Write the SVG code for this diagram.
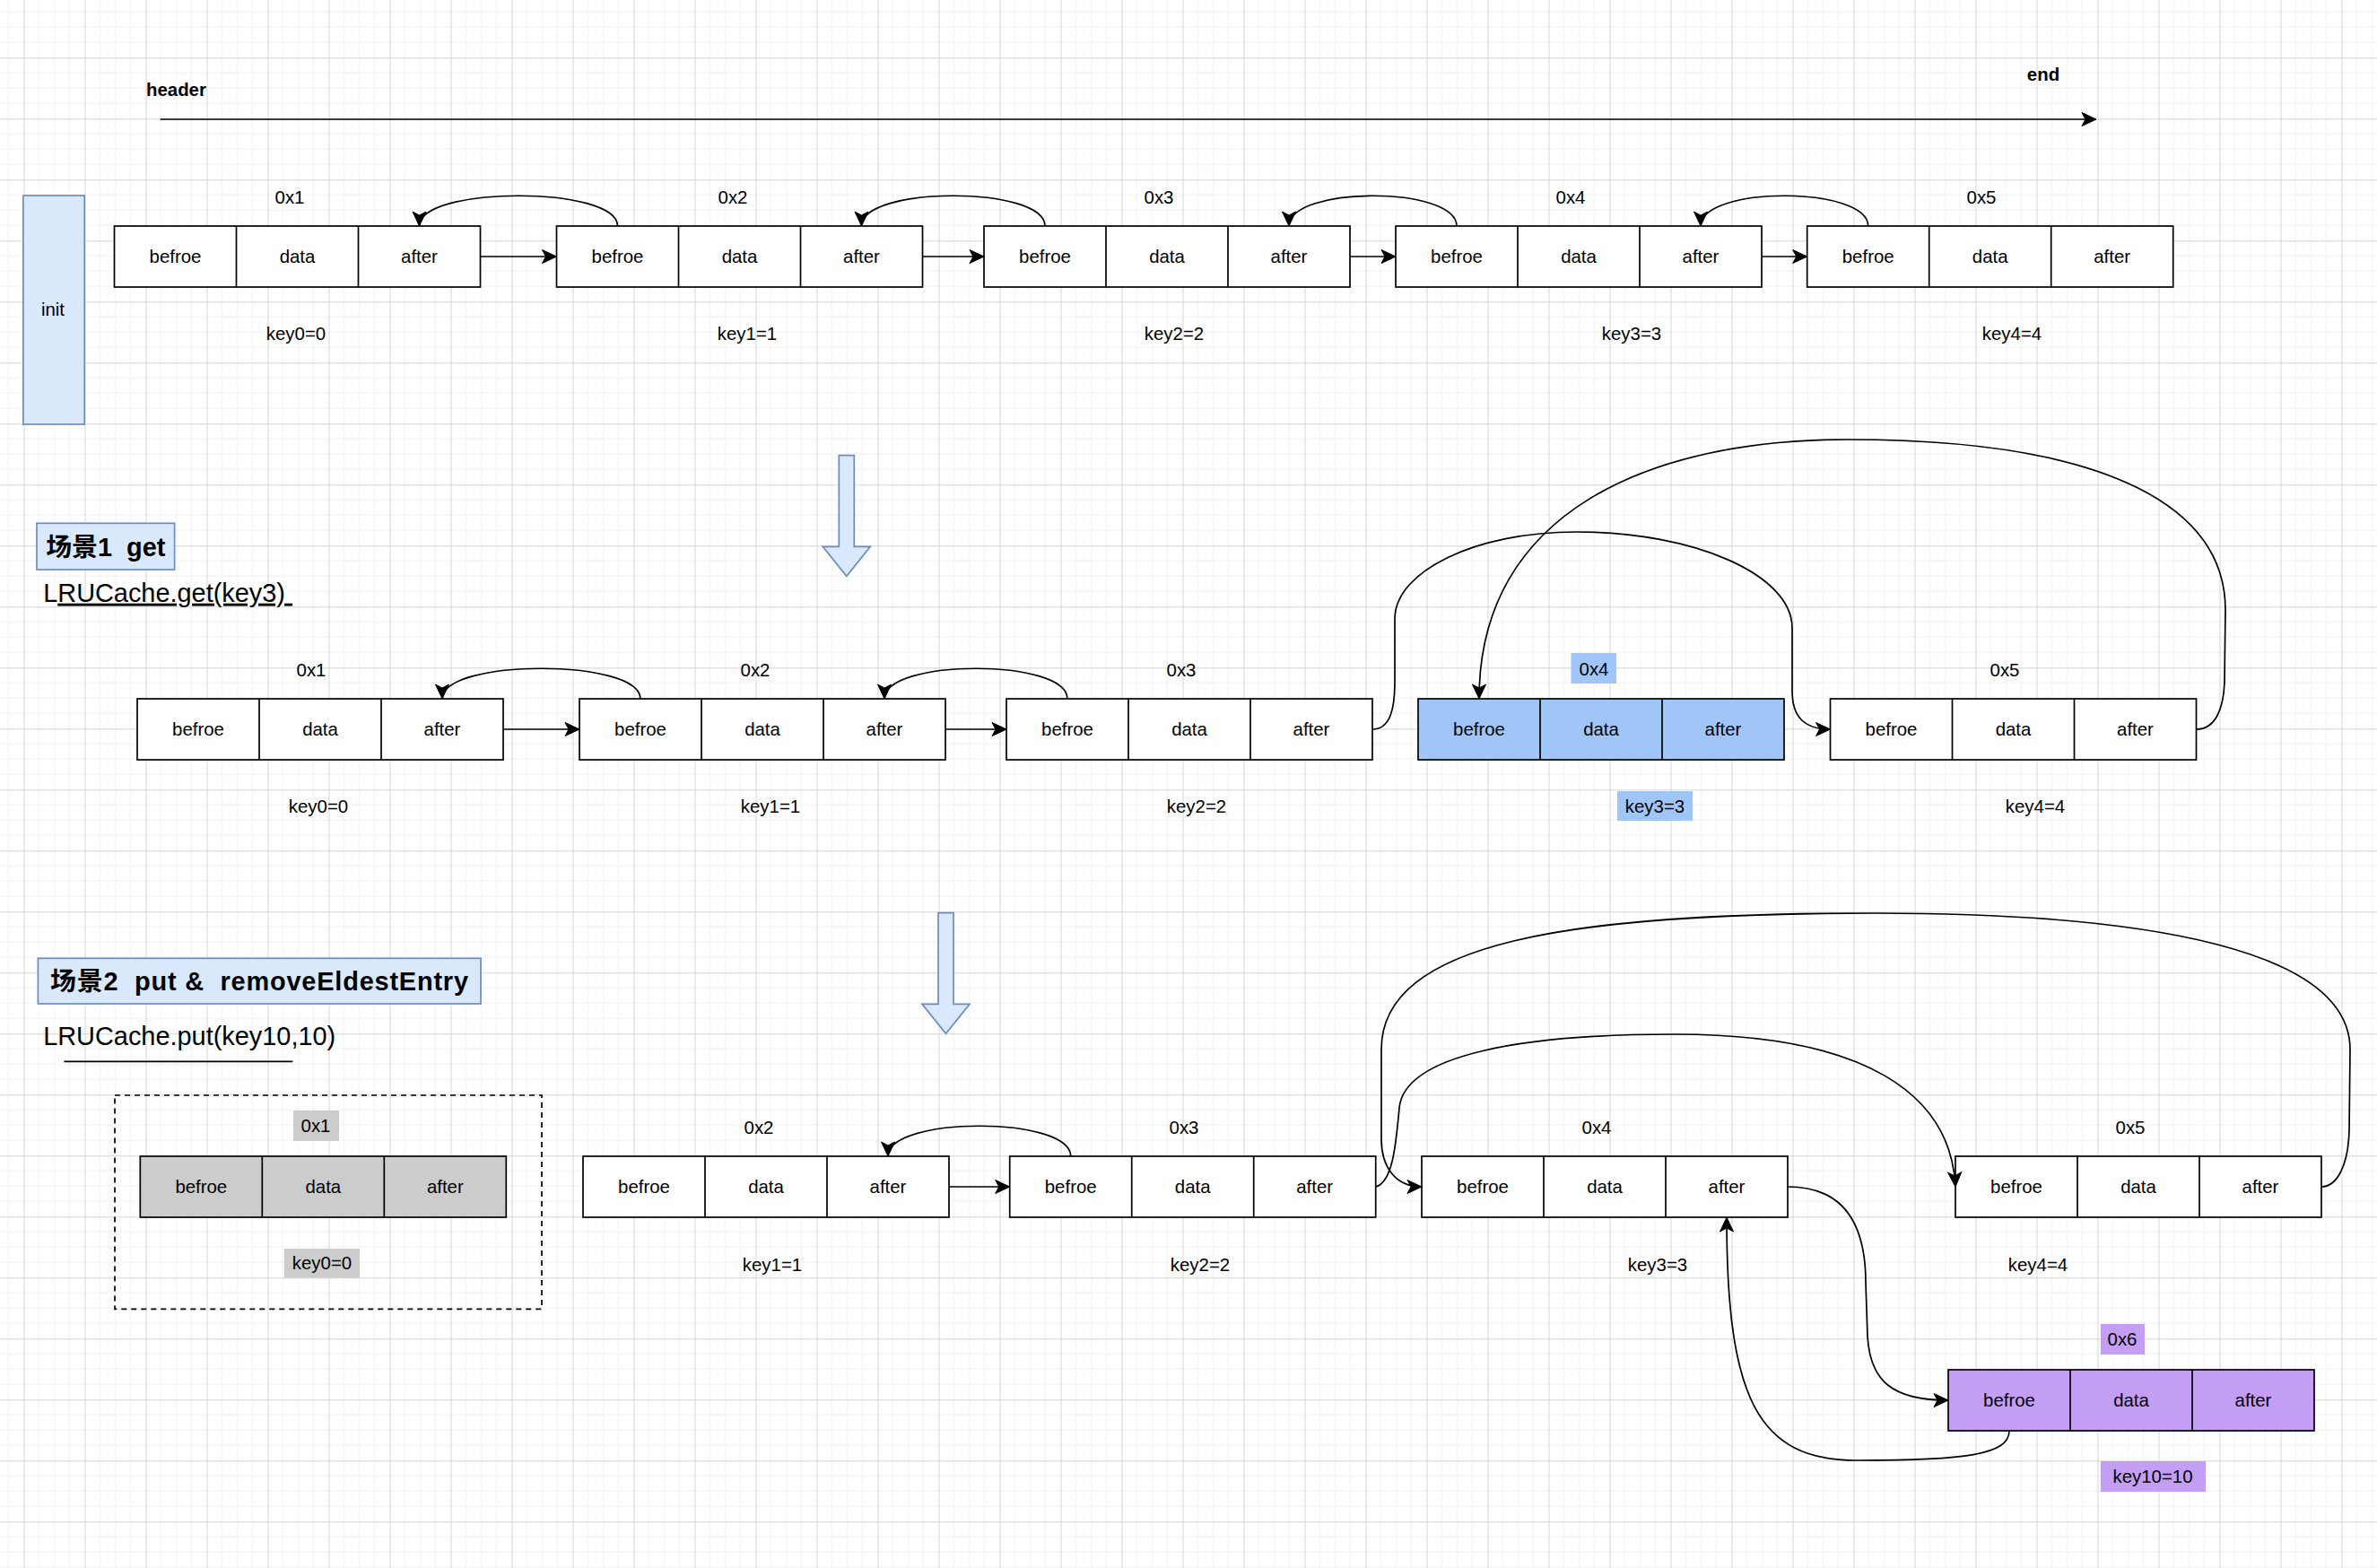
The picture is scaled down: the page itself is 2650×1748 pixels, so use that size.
<svg xmlns="http://www.w3.org/2000/svg" width="2650" height="1748" viewBox="0 0 2650 1748">
<style>
text{font-family:"Liberation Sans",Arial,"Noto Sans CJK SC",sans-serif;fill:#000}
.t{font-size:20.4px;text-anchor:middle}
.l{font-size:20.4px}
.b{font-weight:bold}
.h{font-size:28.9px}
.box{fill:#fff;stroke:#000;stroke-width:1.7}
.gray{fill:#cccccc;stroke:#000;stroke-width:1.7}
.blu{fill:#a0c6f8;stroke:#000;stroke-width:1.7}
.pur{fill:#c49ef5;stroke:#000;stroke-width:1.7}
.div{stroke:#000;stroke-width:1.7;fill:none}
.edge{fill:none;stroke:#000;stroke-width:1.7;marker-end:url(#arr)}
.bluebox{fill:#dae8fc;stroke:#6c8ebf;stroke-width:1.7}
</style>
<defs>
<pattern id="grid" x="26.5" y="64.3" width="68" height="68" patternUnits="userSpaceOnUse">
<path d="M17 0V68M34 0V68M51 0V68M0 17H68M0 34H68M0 51H68" stroke="#efefef" stroke-width="1" fill="none"/>
<path d="M0.5 0V68M0 0.5H68" stroke="#d4d4d4" stroke-width="1" fill="none"/>
</pattern>
<marker id="arr" viewBox="-18 -9 19 18" markerWidth="19" markerHeight="18" refX="0" refY="0" orient="auto" markerUnits="userSpaceOnUse">
<path d="M0 0L-16 -7.5L-12 0L-16 7.5Z" fill="#000" stroke="#000" stroke-width="1"/>
</marker>
</defs>
<rect width="2650" height="1748" fill="#fff"/>
<rect width="2650" height="1748" fill="url(#grid)"/>

<!-- header / init -->
<g id="header">
<text class="l b" x="163" y="107">header</text>
<text class="t b" x="2278" y="90">end</text>
</g>
<g id="init">
<rect class="bluebox" x="25.9" y="218" width="68.3" height="255"/>
<text class="t" x="59" y="352">init</text>
</g>

<!-- Row 1 -->
<g id="r1n1"><rect class="box" x="127.5" y="252" width="408" height="68"/><path class="div" d="M263.5 252V320M399.5 252V320"/><text class="t" x="195.5" y="293.3">befroe</text><text class="t" x="331.5" y="293.3">data</text><text class="t" x="467.5" y="293.3">after</text></g>
<g id="r1n2"><rect class="box" x="620.5" y="252" width="408" height="68"/><path class="div" d="M756.5 252V320M892.5 252V320"/><text class="t" x="688.5" y="293.3">befroe</text><text class="t" x="824.5" y="293.3">data</text><text class="t" x="960.5" y="293.3">after</text></g>
<g id="r1n3"><rect class="box" x="1097" y="252" width="408" height="68"/><path class="div" d="M1233 252V320M1369 252V320"/><text class="t" x="1165" y="293.3">befroe</text><text class="t" x="1301" y="293.3">data</text><text class="t" x="1437" y="293.3">after</text></g>
<g id="r1n4"><rect class="box" x="1556" y="252" width="408" height="68"/><path class="div" d="M1692 252V320M1828 252V320"/><text class="t" x="1624" y="293.3">befroe</text><text class="t" x="1760" y="293.3">data</text><text class="t" x="1896" y="293.3">after</text></g>
<g id="r1n5"><rect class="box" x="2014.7" y="252" width="408" height="68"/><path class="div" d="M2150.7 252V320M2286.7 252V320"/><text class="t" x="2082.7" y="293.3">befroe</text><text class="t" x="2218.7" y="293.3">data</text><text class="t" x="2354.7" y="293.3">after</text></g>
<g id="r1labels">
<text class="t" x="323" y="227">0x1</text><text class="t" x="817" y="227">0x2</text><text class="t" x="1292" y="227">0x3</text><text class="t" x="1751" y="227">0x4</text><text class="t" x="2209" y="227">0x5</text>
<text class="t" x="330" y="379">key0=0</text><text class="t" x="833" y="379">key1=1</text><text class="t" x="1309" y="379">key2=2</text><text class="t" x="1819" y="379">key3=3</text><text class="t" x="2243" y="379">key4=4</text>
</g>

<!-- Scene 1 -->
<g id="arrow1"><polygon class="bluebox" points="935.3,507.7 952.3,507.7 952.3,609.3 970.3,609.3 943.8,642.3 917.3,609.3 935.3,609.3"/></g>
<g id="title1">
<rect class="bluebox" x="41" y="583.3" width="153.6" height="51.7"/>
<text class="h b" x="117.8" y="619.5" text-anchor="middle" xml:space="preserve" style="white-space:pre">场景1  get</text>
</g>
<g id="call1"><text class="h" x="48.2" y="670.7" xml:space="preserve" style="white-space:pre">L<tspan style="text-decoration:underline">RUCache.get(key3) </tspan></text></g>

<g id="r2n1"><rect class="box" x="153" y="779" width="408" height="68"/><path class="div" d="M289 779V847M425 779V847"/><text class="t" x="221" y="820.3">befroe</text><text class="t" x="357" y="820.3">data</text><text class="t" x="493" y="820.3">after</text></g>
<g id="r2n2"><rect class="box" x="646" y="779" width="408" height="68"/><path class="div" d="M782 779V847M918 779V847"/><text class="t" x="714" y="820.3">befroe</text><text class="t" x="850" y="820.3">data</text><text class="t" x="986" y="820.3">after</text></g>
<g id="r2n3"><rect class="box" x="1122" y="779" width="408" height="68"/><path class="div" d="M1258 779V847M1394 779V847"/><text class="t" x="1190" y="820.3">befroe</text><text class="t" x="1326" y="820.3">data</text><text class="t" x="1462" y="820.3">after</text></g>
<g id="r2n4"><rect class="blu" x="1581" y="779" width="408" height="68"/><path class="div" d="M1717 779V847M1853 779V847"/><text class="t" x="1649" y="820.3">befroe</text><text class="t" x="1785" y="820.3">data</text><text class="t" x="1921" y="820.3">after</text></g>
<g id="r2n5"><rect class="box" x="2040.5" y="779" width="408" height="68"/><path class="div" d="M2176.5 779V847M2312.5 779V847"/><text class="t" x="2108.5" y="820.3">befroe</text><text class="t" x="2244.5" y="820.3">data</text><text class="t" x="2380.5" y="820.3">after</text></g>
<g id="r2labels">
<rect x="1751.5" y="728" width="50.5" height="34" fill="#a0c6f8"/>
<rect x="1803" y="882" width="84" height="33" fill="#a0c6f8"/>
<text class="t" x="347" y="754">0x1</text><text class="t" x="842" y="754">0x2</text><text class="t" x="1317" y="754">0x3</text><text class="t" x="1777" y="753">0x4</text><text class="t" x="2235" y="754">0x5</text>
<text class="t" x="355" y="906">key0=0</text><text class="t" x="859" y="906">key1=1</text><text class="t" x="1334" y="906">key2=2</text><text class="t" x="1845" y="906">key3=3</text><text class="t" x="2269" y="906">key4=4</text>
</g>

<!-- Scene 2 -->
<g id="arrow2"><polygon class="bluebox" points="1046,1017.7 1063,1017.7 1063,1119.3 1081,1119.3 1054.5,1152.3 1028,1119.3 1046,1119.3"/></g>
<g id="title2">
<rect class="bluebox" x="42.4" y="1068.3" width="493.6" height="50.7"/>
<text class="h b" x="56" y="1104" textLength="466" lengthAdjust="spacing" xml:space="preserve" style="white-space:pre">场景2  put &amp;  removeEldestEntry</text>
</g>
<g id="call2">
<text class="h" x="48.2" y="1165">LRUCache.put(key10,10)</text>
<line x1="71.4" y1="1183.3" x2="326.3" y2="1183.3" stroke="#000" stroke-width="1.7"/>
</g>
<g id="removed">
<rect x="128" y="1221" width="476" height="238.3" fill="none" stroke="#000" stroke-width="1.7" stroke-dasharray="6 5"/>
<rect x="327" y="1238" width="51" height="34" fill="#cccccc"/>
<rect x="317" y="1392" width="84" height="32.5" fill="#cccccc"/>
<text class="t" x="352" y="1262">0x1</text>
<text class="t" x="359" y="1415">key0=0</text>
<rect class="gray" x="156.3" y="1289" width="408" height="68"/><path class="div" d="M292.3 1289V1357M428.3 1289V1357"/><text class="t" x="224.3" y="1330.3">befroe</text><text class="t" x="360.3" y="1330.3">data</text><text class="t" x="496.3" y="1330.3">after</text>
</g>
<g id="r3n2"><rect class="box" x="650" y="1289" width="408" height="68"/><path class="div" d="M786 1289V1357M922 1289V1357"/><text class="t" x="718" y="1330.3">befroe</text><text class="t" x="854" y="1330.3">data</text><text class="t" x="990" y="1330.3">after</text></g>
<g id="r3n3"><rect class="box" x="1125.7" y="1289" width="408" height="68"/><path class="div" d="M1261.7 1289V1357M1397.7 1289V1357"/><text class="t" x="1193.7" y="1330.3">befroe</text><text class="t" x="1329.7" y="1330.3">data</text><text class="t" x="1465.7" y="1330.3">after</text></g>
<g id="r3n4"><rect class="box" x="1585" y="1289" width="408" height="68"/><path class="div" d="M1721 1289V1357M1857 1289V1357"/><text class="t" x="1653" y="1330.3">befroe</text><text class="t" x="1789" y="1330.3">data</text><text class="t" x="1925" y="1330.3">after</text></g>
<g id="r3n5"><rect class="box" x="2180" y="1289" width="408" height="68"/><path class="div" d="M2316 1289V1357M2452 1289V1357"/><text class="t" x="2248" y="1330.3">befroe</text><text class="t" x="2384" y="1330.3">data</text><text class="t" x="2520" y="1330.3">after</text></g>
<g id="r3n6"><rect class="pur" x="2172" y="1527" width="408" height="68"/><path class="div" d="M2308 1527V1595M2444 1527V1595"/><text class="t" x="2240" y="1568.3">befroe</text><text class="t" x="2376" y="1568.3">data</text><text class="t" x="2512" y="1568.3">after</text></g>
<g id="r3labels">
<rect x="2342" y="1476" width="49" height="34" fill="#c49ef5"/>
<rect x="2342" y="1629" width="117" height="34" fill="#c49ef5"/>
<text class="t" x="846" y="1264">0x2</text><text class="t" x="1320" y="1264">0x3</text><text class="t" x="1780" y="1264">0x4</text><text class="t" x="2375" y="1264">0x5</text><text class="t" x="2366" y="1500">0x6</text>
<text class="t" x="861" y="1417">key1=1</text><text class="t" x="1338" y="1417">key2=2</text><text class="t" x="1848" y="1417">key3=3</text><text class="t" x="2272" y="1417">key4=4</text><text class="t" x="2400" y="1653">key10=10</text>
</g>

<!-- connectors -->
<g id="connectors">
<path class="edge" d="M178.6 133H2337"/>
<path class="edge" d="M535.5 286H620.5"/>
<path class="edge" d="M1028.5 286H1097"/>
<path class="edge" d="M1505 286H1556"/>
<path class="edge" d="M1964 286H2014.7"/>
<path class="edge" d="M688.5 252C688.5 207 467.5 207 467.5 252"/>
<path class="edge" d="M1165 252C1165 207 960.5 207 960.5 252"/>
<path class="edge" d="M1624 252C1624 207 1437 207 1437 252"/>
<path class="edge" d="M2082.7 252C2082.7 207 1896 207 1896 252"/>

<path class="edge" d="M561 813H646"/>
<path class="edge" d="M1054 813H1122"/>
<path class="edge" d="M714 779C714 734 493 734 493 779"/>
<path class="edge" d="M1190 779C1190 734 986 734 986 779"/>
<path class="edge" d="M1530 813C1550 813 1555 790 1555 760L1555 690C1555 636.5 1645.5 593 1757 593C1890 593 1998 641 1998 700L1998 770C1998 800 2012 813 2040.5 813"/>
<path class="edge" d="M2448.5 813C2470 813 2479 790 2480 760L2481 680C2481 570 2360 490 2060 490C1840 490 1649 570 1649 779"/>

<path class="edge" d="M1058 1323H1125.7"/>
<path class="edge" d="M1193.7 1289C1193.7 1244 990 1244 990 1289"/>
<path class="edge" d="M1533.7 1323C1552 1318 1556 1280 1560 1235C1566 1175 1700 1153 1867 1153C2080 1153 2175 1220 2180 1323"/>
<path class="edge" d="M2588 1323C2605 1323 2618 1300 2619 1260L2620 1170C2620 1060 2400 1018 2090 1018C1750 1018 1540 1050 1540 1170L1540 1270C1540 1300 1555 1323 1585 1323"/>
<path class="edge" d="M1993 1323C2060 1323 2080 1370 2080 1430L2082 1490C2085 1540 2110 1561 2172 1561"/>
<path class="edge" d="M2240 1595C2240 1622 2190 1628 2070 1628C1960 1628 1925 1560 1925 1357"/>
</g>
</svg>
